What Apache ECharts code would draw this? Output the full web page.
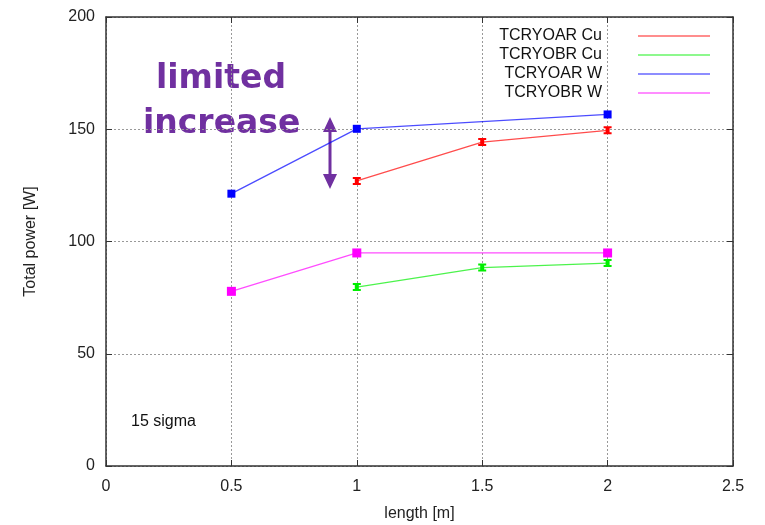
<!DOCTYPE html>
<html><head><meta charset="utf-8">
<script src="https://cdn.jsdelivr.net/npm/echarts@6/dist/echarts.min.js"></script>
<style>html,body{margin:0;padding:0;background:#fff}#c{width:765px;height:525px}</style>
</head><body><div id="c"></div>
<script>
var seriesNames = ['TCRYOAR Cu', 'TCRYOBR Cu', 'TCRYOAR W', 'TCRYOBR W'];
var seriesColors = ['#ff0000', '#00ee00', '#0000ff', '#ff00ff'];
var cuLengths = [1, 1.5, 2];
var wLengths = [0.5, 1, 2];
var tcryoarCu = [127, 144.3, 149.5];
var tcryobrCu = [79.7, 88.4, 90.4];
var tcryoarW = [121.3, 150.2, 156.6];
var tcryobrW = [77.8, 94.9, 94.9];
var xTicks = [0, 0.5, 1, 1.5, 2, 2.5];
var yTicks = [0, 50, 100, 150, 200];

function pairs(xs, ys){ return xs.map(function(x,i){ return [x, ys[i]]; }); }
var font = '"Liberation Sans", Arial, sans-serif';
var errSym = 'path://M0,0 L10,0 L10,2.5 L7.5,2.5 L7.5,7.5 L10,7.5 L10,10 L0,10 L0,7.5 L2.5,7.5 L2.5,2.5 L0,2.5 Z';

function mk(name, color, data, sym, size){
  return {
    name: name, type: 'line', data: data, symbol: sym, symbolSize: size,
    itemStyle: {color: color}, lineStyle: {color: color, width: 1.3, opacity: 0.7},
    emphasis: {disabled: true}, animation: false, z: 3
  };
}

var chart = echarts.init(document.getElementById('c'));
var axisLine = {show: true, onZero: false, lineStyle: {color: '#333', width: 1.5}};
var tick = {show: true, inside: true, length: 6, lineStyle: {color: '#333'}};
chart.setOption({
  animation: false,
  grid: {left: 106, right: 32, top: 17, bottom: 59, show: false, containLabel: false, outerBoundsMode: 'none'},
  legend: {
    orient: 'vertical', right: 50, top: 23, align: 'right', itemGap: 3,
    itemWidth: 72, itemHeight: 14,
    textStyle: {fontFamily: font, fontSize: 16, lineHeight: 16, color: '#111', padding: [0, 31, 0, 0]},
    data: seriesNames.map(function(n){ return {name: n, icon: 'path://M0,6 L72,6 L72,7.6 L0,7.6 Z', itemStyle: {opacity: 0.6}}; })
  },
  xAxis: [{
    type: 'value', min: 0, max: 2.5, interval: 0.5,
    name: 'length [m]', nameLocation: 'middle', nameGap: 40,
    nameTextStyle: {fontFamily: font, fontSize: 16, color: '#222'},
    axisLine: axisLine, axisTick: tick,
    axisLabel: {fontFamily: font, fontSize: 16, color: '#222', margin: 13,
      formatter: function(v){ return xTicks.indexOf(v) >= 0 ? String(v) : ''; }},
    splitLine: {show: true, lineStyle: {color: '#999', type: [2, 2], width: 1}}
  }, {
    type: 'value', position: 'top', min: 0, max: 2.5, interval: 0.5,
    axisLine: axisLine, axisTick: tick,
    axisLabel: {show: false}, splitLine: {show: false}
  }],
  yAxis: [{
    type: 'value', min: 0, max: 200, interval: 50,
    name: 'Total power [W]', nameLocation: 'middle', nameGap: 67,
    nameTextStyle: {fontFamily: font, fontSize: 16, color: '#222'},
    axisLine: axisLine, axisTick: tick,
    axisLabel: {fontFamily: font, fontSize: 16, color: '#222', margin: 11,
      formatter: function(v){ return yTicks.indexOf(v) >= 0 ? String(v) : ''; }},
    splitLine: {show: true, lineStyle: {color: '#999', type: [2, 2], width: 1}}
  }, {
    type: 'value', position: 'right', min: 0, max: 200, interval: 50,
    axisLine: axisLine, axisTick: tick,
    axisLabel: {show: false}, splitLine: {show: false}
  }],
  series: [
    mk(seriesNames[0], seriesColors[0], pairs(cuLengths, tcryoarCu), errSym, 8),
    mk(seriesNames[1], seriesColors[1], pairs(cuLengths, tcryobrCu), errSym, 8),
    mk(seriesNames[2], seriesColors[2], pairs(wLengths, tcryoarW), 'rect', 8),
    mk(seriesNames[3], seriesColors[3], pairs(wLengths, tcryobrW), 'rect', 9)
  ],
  graphic: [
    {type: 'text', left: 156, top: 63, style: {text: 'limited', font: 'bold 33px "DejaVu Sans", sans-serif', fill: '#7030a0'}},
    {type: 'text', left: 143, top: 108, style: {text: 'increase', font: 'bold 33px "DejaVu Sans", sans-serif', fill: '#7030a0'}},
    {type: 'line', shape: {x1: 330, y1: 126, x2: 330, y2: 180}, style: {stroke: '#7030a0', lineWidth: 3}},
    {type: 'polygon', shape: {points: [[330, 117], [323, 132], [337, 132]]}, style: {fill: '#7030a0'}},
    {type: 'polygon', shape: {points: [[330, 189], [323, 174], [337, 174]]}, style: {fill: '#7030a0'}},
    {type: 'text', left: 131, top: 414, style: {text: '15 sigma', font: '16px "Liberation Sans", Arial, sans-serif', fill: '#111'}}
  ]
});
</script></body></html>
